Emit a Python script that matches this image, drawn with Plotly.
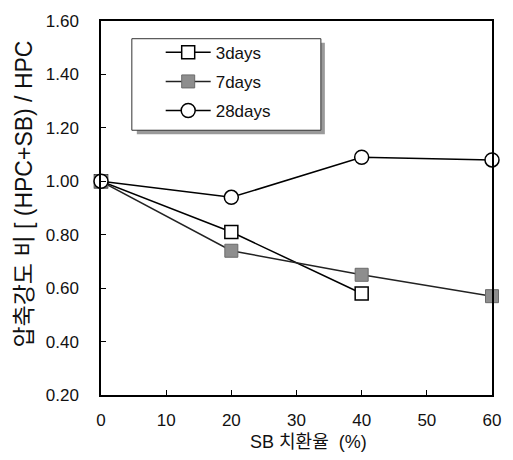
import plotly.graph_objects as go

# SB replacement ratio (%) and compressive strength ratio per curing age
sb_ratio = [0, 20, 40, 60]
days3 = [1.00, 0.81, 0.58]
days7 = [1.00, 0.74, 0.65, 0.57]
days28 = [1.00, 0.94, 1.09, 1.08]

y_ticks = [0.20, 0.40, 0.60, 0.80, 1.00, 1.20, 1.40, 1.60]
x_ticks = [0, 10, 20, 30, 40, 50, 60]

FONT = "Liberation Sans, Arial, Noto Sans CJK KR, sans-serif"

W, H = 513, 460
ML, MR, MT, MB = 101, 19, 15, 65
PW, PH = W - ML - MR, H - MT - MB


def px(xp):
    return (xp - ML) / PW


def py(yp):
    return (H - MB - yp) / PH


fig = go.Figure()

fig.add_trace(go.Scatter(
    x=sb_ratio[:len(days3)], y=days3, name="3days", mode="lines+markers",
    line=dict(color="black", width=1.5),
    marker=dict(symbol="square", size=13, color="white",
                line=dict(color="black", width=1.5)),
    cliponaxis=False, legendgroup="a",
))
fig.add_trace(go.Scatter(
    x=sb_ratio, y=days7, name="7days", mode="lines+markers",
    line=dict(color="#222222", width=1.5),
    marker=dict(symbol="square", size=13, color="#8e8e8e",
                line=dict(color="#6a6a6a", width=1)),
    cliponaxis=False, legendgroup="b",
))
fig.add_trace(go.Scatter(
    x=sb_ratio, y=days28, name="28days", mode="lines+markers",
    line=dict(color="black", width=1.5),
    marker=dict(symbol="circle", size=14, color="white",
                line=dict(color="black", width=1.5)),
    cliponaxis=False, legendgroup="c",
))

# legend frame with drop shadow
fig.add_shape(type="rect", xref="paper", yref="paper",
              x0=px(137), x1=px(326), y0=py(130), y1=py(37),
              fillcolor="#9a9a9a", line=dict(width=0), layer="above")
fig.add_shape(type="rect", xref="paper", yref="paper",
              x0=px(132), x1=px(322), y0=py(126), y1=py(33),
              fillcolor="white", line=dict(color="#333333", width=1),
              layer="above")

# rotated y-axis title
fig.add_annotation(
    text="압축강도 비 [ (HPC+SB) / HPC", xref="paper", yref="paper",
    x=px(24), y=py(349), xanchor="center", yanchor="bottom",
    textangle=-90, showarrow=False,
    font=dict(family=FONT, size=23, color="#111111"),
)

# x-axis title
fig.add_annotation(
    text="SB 치환율  (%)", xref="paper", yref="paper",
    x=px(310), y=py(443), xanchor="center", yanchor="middle",
    showarrow=False,
    font=dict(family=FONT, size=18, color="#111111"),
)

fig.update_layout(
    width=W, height=H,
    margin=dict(l=ML, r=MR, t=MT, b=MB, pad=0),
    paper_bgcolor="white", plot_bgcolor="white",
    font=dict(family=FONT, size=17, color="#111111"),
    showlegend=True,
    legend=dict(
        x=px(161), y=py(29), xanchor="left", yanchor="top",
        bgcolor="rgba(0,0,0,0)", borderwidth=0,
        font=dict(family=FONT, size=17, color="#111111"),
        tracegroupgap=4, itemwidth=45,
    ),
    xaxis=dict(
        range=[0, 60], tickvals=x_ticks, ticktext=[str(v) for v in x_ticks],
        ticks="inside", ticklen=5, tickcolor="black",
        showline=True, linecolor="black", linewidth=1.5, mirror=True,
        showgrid=False, zeroline=False, ticklabelstandoff=9,
    ),
    yaxis=dict(
        range=[0.20, 1.60], tickvals=y_ticks,
        ticktext=[f"{v:.2f}" for v in y_ticks],
        ticks="inside", ticklen=5, tickcolor="black",
        showline=True, linecolor="black", linewidth=1.5, mirror=True,
        showgrid=False, zeroline=False, ticklabelstandoff=17,
    ),
)

fig.write_html("out.html")
